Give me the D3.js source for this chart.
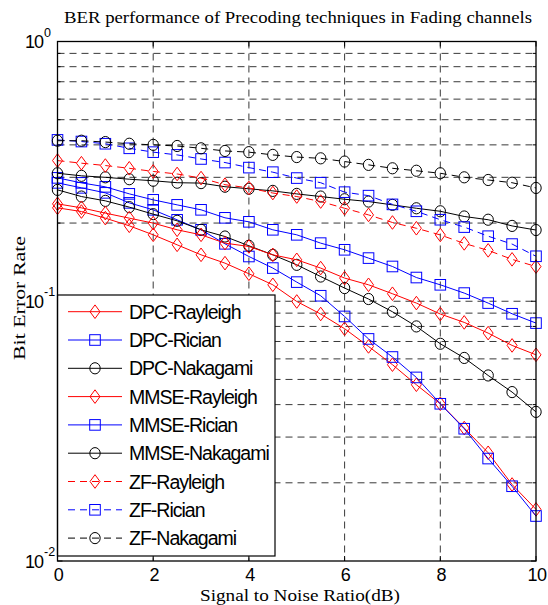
<!DOCTYPE html>
<html><head><meta charset="utf-8">
<script src="https://cdn.jsdelivr.net/npm/d3@7"></script>
<style>body{margin:0;background:#fff}</style>
</head><body><svg id="c" width="548" height="605"></svg>
<script>
const snr = [0,0.5,1,1.5,2,2.5,3,3.5,4,4.5,5,5.5,6,6.5,7,7.5,8,8.5,9,9.5,10];
const dpcRayleigh   = [0.2289,0.2215,0.2089,0.1952,0.1802,0.1649,0.1509,0.1402,0.1276,0.1157,0.0998,0.0893,0.0784,0.0670,0.0570,0.0477,0.0403,0.0325,0.0261,0.0197,0.0158];
const dpcRician     = [0.2856,0.2733,0.2614,0.2392,0.2249,0.2058,0.1884,0.1664,0.1487,0.1342,0.1185,0.1050,0.0874,0.0716,0.0610,0.0509,0.0403,0.0323,0.0248,0.0194,0.0149];
const dpcNakagami   = [0.2684,0.2530,0.2435,0.2303,0.2164,0.2040,0.1884,0.1775,0.1635,0.1509,0.1381,0.1245,0.1124,0.1020,0.0911,0.0800,0.0686,0.0605,0.0518,0.0447,0.0375];
const mmseRayleigh  = [0.2371,0.2289,0.2184,0.2089,0.1999,0.1884,0.1802,0.1674,0.1625,0.1509,0.1444,0.1342,0.1228,0.1157,0.1069,0.0984,0.0893,0.0829,0.0754,0.0676,0.0622];
const mmseRician    = [0.2985,0.2856,0.2757,0.2591,0.2457,0.2350,0.2249,0.2095,0.2022,0.1884,0.1802,0.1674,0.1578,0.1466,0.1361,0.1234,0.1157,0.1075,0.0984,0.0895,0.0824];
const mmseNakagami  = [0.311,0.304,0.300,0.295,0.291,0.286,0.285,0.276,0.271,0.266,0.259,0.253,0.247,0.242,0.235,0.228,0.222,0.212,0.206,0.195,0.188];
const zfRayleigh    = [0.348,0.340,0.333,0.325,0.316,0.309,0.298,0.281,0.273,0.261,0.253,0.242,0.228,0.215,0.201,0.191,0.180,0.167,0.157,0.145,0.136];
const zfRician      = [0.418,0.412,0.404,0.388,0.375,0.366,0.353,0.342,0.327,0.314,0.298,0.286,0.263,0.255,0.236,0.222,0.206,0.193,0.178,0.166,0.149];
const zfNakagami    = [0.415,0.415,0.410,0.404,0.400,0.396,0.388,0.379,0.375,0.366,0.359,0.355,0.345,0.335,0.325,0.318,0.311,0.300,0.293,0.286,0.273];

const seriesNames = ["DPC-Rayleigh","DPC-Rician","DPC-Nakagami","MMSE-Rayleigh","MMSE-Rician","MMSE-Nakagami","ZF-Rayleigh","ZF-Rician","ZF-Nakagami"];
const seriesValues = [dpcRayleigh,dpcRician,dpcNakagami,mmseRayleigh,mmseRician,mmseNakagami,zfRayleigh,zfRician,zfNakagami];
const xTicks = [0,2,4,6,8,10];
const yTicks = [0.01,0.1,1];
const yTickExp = ["-2","-1","0"];
const titleText = "BER performance of Precoding techniques in Fading channels";
const xLabel = "Signal to Noise Ratio(dB)";
const yLabel = "Bit  Error Rate";

const colorOf = n => n.includes("Rayleigh") ? "#ff0000" : n.includes("Rician") ? "#0000ff" : "#000000";
const markerOf = n => n.includes("Rayleigh") ? "diamond" : n.includes("Rician") ? "square" : "circle";
const dashOf = n => n.startsWith("ZF") ? "7,5" : null;

const L = 57.5, R = 536, T = 41.5, B = 561;
const x = d3.scaleLinear([0,10],[L,R]);
const y = d3.scaleLog([0.01,1],[B,T]);
const svg = d3.select("#c");

// grid
const g = svg.append("g").attr("stroke","#222").attr("stroke-width",0.9).attr("stroke-dasharray","7,5");
y.ticks().filter(v => v > 0.0100001 && v < 0.99999).forEach(v => {
  g.append("line").attr("x1",L).attr("x2",R).attr("y1",y(v)).attr("y2",y(v));
});
xTicks.filter(v => v > 0 && v < 10).forEach(v => {
  g.append("line").attr("x1",x(v)).attr("x2",x(v)).attr("y1",T).attr("y2",B);
});

// ticks (inward)
const tk = svg.append("g").attr("stroke","#000").attr("stroke-width",1);
xTicks.forEach(v => {
  tk.append("line").attr("x1",x(v)).attr("x2",x(v)).attr("y1",B).attr("y2",B-5);
  tk.append("line").attr("x1",x(v)).attr("x2",x(v)).attr("y1",T).attr("y2",T+5);
});
y.ticks().forEach(v => {
  const len = yTicks.some(t => Math.abs(t - v) < 1e-9) ? 5 : 3;
  tk.append("line").attr("x1",L).attr("x2",L+len).attr("y1",y(v)).attr("y2",y(v));
  tk.append("line").attr("x1",R).attr("x2",R-len).attr("y1",y(v)).attr("y2",y(v));
});

function drawMarker(sel, type, cx, cy, color) {
  if (type === "circle") {
    sel.append("ellipse").attr("cx",cx).attr("cy",cy).attr("rx",5.2).attr("ry",5.6)
      .attr("fill","none").attr("stroke",color).attr("stroke-width",1);
  } else if (type === "square") {
    sel.append("rect").attr("x",cx-5.3).attr("y",cy-5.3).attr("width",10.6).attr("height",10.6)
      .attr("fill","none").attr("stroke",color).attr("stroke-width",1);
  } else {
    sel.append("path").attr("d",`M${cx},${cy-6.8}L${cx+5},${cy}L${cx},${cy+6.8}L${cx-5},${cy}Z`)
      .attr("fill","none").attr("stroke",color).attr("stroke-width",1);
  }
}

const line = d3.line().x((d,i) => x(snr[i])).y(d => y(d));
const plot = svg.append("g");
seriesNames.forEach((n, k) => {
  const vals = seriesValues[k];
  const c = colorOf(n);
  plot.append("path").attr("d", line(vals)).attr("fill","none").attr("stroke",c)
    .attr("stroke-width",1).attr("stroke-dasharray", dashOf(n));
  vals.forEach((v,i) => drawMarker(plot, markerOf(n), x(snr[i]), y(v), c));
});

// legend
const lg = svg.append("g");
const lgTop = 295, lgBot = 556, lgL = L, lgR = 275;
lg.append("rect").attr("x",lgL).attr("y",lgTop).attr("width",lgR-lgL).attr("height",lgBot-lgTop)
  .attr("fill","#fff").attr("stroke","#000").attr("stroke-width",1.2);
seriesNames.forEach((n,i) => {
  const cy = 311.7 + i*28.3;
  const c = colorOf(n);
  lg.append("line").attr("x1",68).attr("x2",122).attr("y1",cy).attr("y2",cy)
    .attr("stroke",c).attr("stroke-width",1).attr("stroke-dasharray",dashOf(n));
  drawMarker(lg, markerOf(n), 95, cy, c);
  lg.append("text").attr("x",129).attr("y",cy+7).text(n)
    .attr("font-family","Liberation Sans, Arial, sans-serif").attr("font-size",19.5)
    .attr("letter-spacing",-1.0).attr("fill","#000");
});

// border
svg.append("rect").attr("x",L).attr("y",T).attr("width",R-L).attr("height",B-T)
  .attr("fill","none").attr("stroke","#000").attr("stroke-width",1.3);

// tick labels
const sans = "Liberation Sans, Arial, sans-serif";
xTicks.forEach(v => {
  svg.append("text").attr("x",x(v)+1).attr("y",B+20).attr("text-anchor","middle")
    .attr("font-family",sans).attr("font-size",18).attr("letter-spacing",-0.5).text(v);
});
yTicks.forEach((v,i) => {
  const t = svg.append("text").attr("x",43).attr("y",y(v)+6.5).attr("text-anchor","end")
    .attr("font-family",sans).attr("font-size",18).attr("letter-spacing",-1);
  t.text("10");
  svg.append("text").attr("x",44).attr("y",y(v)-5).attr("font-family",sans).attr("font-size",12.5)
    .text(yTickExp[i]);
});

// title and labels
const serif = "Liberation Serif, Times New Roman, serif";
svg.append("text").attr("x",298).attr("y",23).attr("text-anchor","middle")
  .attr("font-family",serif).attr("font-size",17).attr("textLength",468).attr("lengthAdjust","spacingAndGlyphs")
  .text(titleText);
svg.append("text").attr("x",300).attr("y",601).attr("text-anchor","middle")
  .attr("font-family",serif).attr("font-size",16.5).attr("textLength",200).attr("lengthAdjust","spacingAndGlyphs")
  .text(xLabel);
svg.append("text").attr("transform","translate(25,298) rotate(-90)").attr("text-anchor","middle")
  .attr("font-family",serif).attr("font-size",17).attr("textLength",124).attr("lengthAdjust","spacingAndGlyphs")
  .text(yLabel);
</script></body></html>
